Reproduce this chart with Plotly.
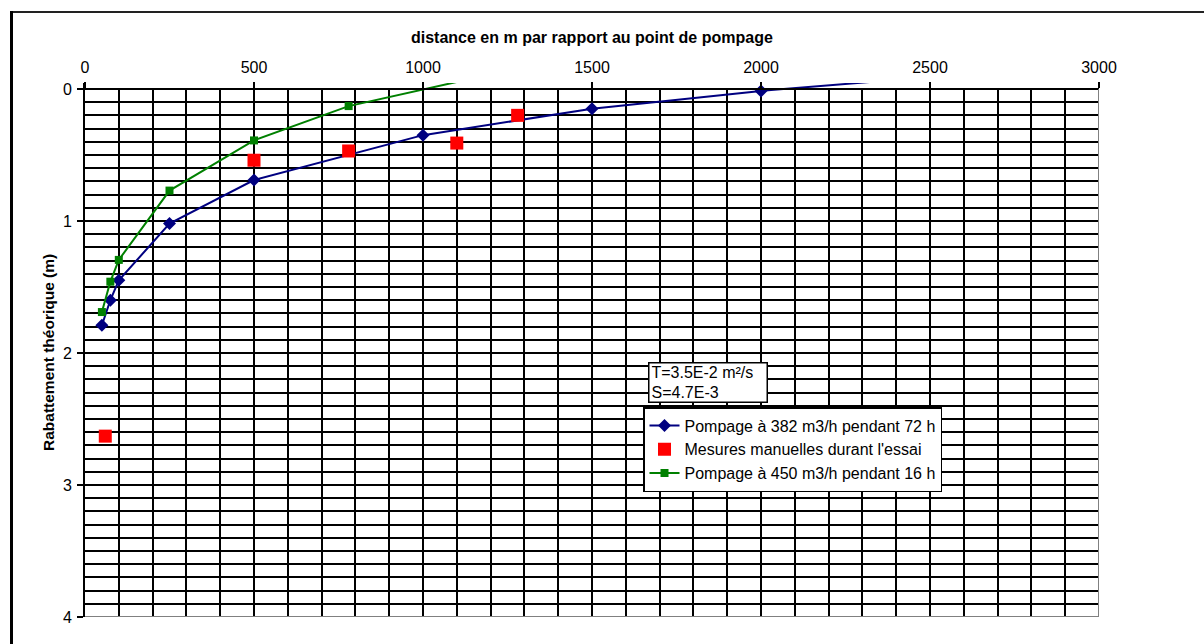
import plotly.graph_objects as go

# Distances (m) and theoretical drawdown (m)
dist_382 = [50, 75, 100, 250, 500, 1000, 1500, 2000, 2500]
draw_382 = [1.79, 1.60, 1.45, 1.02, 0.69, 0.35, 0.15, 0.015, -0.09]

dist_450 = [50, 75, 100, 250, 500, 780, 1200]
draw_450 = [1.69, 1.46, 1.295, 0.77, 0.39, 0.13, -0.11]

# Manual measurements taken during the test
dist_mes = [60, 500, 780, 1100, 1280]
draw_mes = [2.63, 0.54, 0.47, 0.41, 0.20]

name_382 = "Pompage à 382 m3/h pendant 72 h"
name_mes = "Mesures manuelles durant l'essai"
name_450 = "Pompage à 450 m3/h pendant 16 h"
params_text = "T=3.5E-2 m²/s<br>S=4.7E-3"
x_title = "distance en m par rapport au point de pompage"
y_title = "Rabattement théorique (m)"

W, H = 1204, 644
ML, MR, MT, MB = 85, 105, 83, 27
PW, PH = W - ML - MR, H - MT - MB


def px(x):
    return (x - ML) / PW


def py(y):
    return 1 - (y - MT) / PH


FONT = "Liberation Sans, Arial, sans-serif"

fig = go.Figure()
fig.add_trace(go.Scatter(
    x=dist_382, y=draw_382, name=name_382, mode="lines+markers",
    line=dict(color="#000080", width=2),
    marker=dict(symbol="diamond", size=10, color="#000080"),
))
fig.add_trace(go.Scatter(
    x=dist_mes, y=draw_mes, name=name_mes, mode="markers",
    marker=dict(symbol="square", size=13, color="#FF0000"),
))
fig.add_trace(go.Scatter(
    x=dist_450, y=draw_450, name=name_450, mode="lines+markers",
    line=dict(color="#008000", width=2),
    marker=dict(symbol="square", size=8, color="#008000"),
))

grid = dict(showgrid=True, gridcolor="#000000", gridwidth=1.5)

fig.update_layout(
    width=W, height=H,
    margin=dict(l=ML, r=MR, t=MT, b=MB),
    paper_bgcolor="white", plot_bgcolor="white",
    font=dict(family=FONT, size=16, color="black"),
    showlegend=True,
    legend=dict(
        x=px(643), y=py(407), xanchor="left", yanchor="top",
        bgcolor="white", bordercolor="black", borderwidth=1.5,
        font=dict(size=16), traceorder="normal",
    ),
    xaxis=dict(
        range=[0, 3000], side="top", anchor="free", position=4 / 4.045,
        tickmode="linear", tick0=0, dtick=500,
        showline=True, linecolor="black", linewidth=2,
        ticks="outside", ticklen=6, tickwidth=1.5, tickcolor="black",
        tickfont=dict(size=16), ticklabelstandoff=3,
        minor=dict(dtick=100, tick0=0, **grid),
        zeroline=False, **grid,
    ),
    yaxis=dict(
        range=[4, -0.045],
        tickmode="array", tickvals=[0, 1, 2, 3, 4],
        showline=True, linecolor="black", linewidth=2,
        ticks="outside", ticklen=6, tickwidth=1.5, tickcolor="black",
        tickfont=dict(size=16), ticklabelstandoff=2,
        minor=dict(dtick=0.1, tick0=0, **grid),
        zeroline=False, **grid,
    ),
)

# Hide gridlines in the thin band above the zero line
fig.add_shape(type="rect", xref="x", yref="y", x0=-10, x1=3010, y0=-0.05, y1=0,
              fillcolor="white", line=dict(width=0), layer="between")
# Plot area border (bottom / right)
fig.add_shape(type="line", xref="x", yref="y", x0=0, x1=3000, y0=4, y1=4,
              line=dict(color="#808080", width=2), layer="above")
fig.add_shape(type="line", xref="x", yref="y", x0=3000, x1=3000, y0=0, y1=4,
              line=dict(color="#808080", width=2), layer="above")
# Outer chart frame
fig.add_shape(type="line", xref="paper", yref="paper", x0=px(10), x1=px(1204),
              y0=py(12), y1=py(12), line=dict(color="#222222", width=2))
fig.add_shape(type="line", xref="paper", yref="paper", x0=px(11.5), x1=px(11.5),
              y0=py(11), y1=py(644), line=dict(color="black", width=3))

fig.add_annotation(text=f"<b>{x_title}</b>", xref="paper", yref="paper",
                   x=px(592), y=py(38), xanchor="center", yanchor="middle",
                   showarrow=False, font=dict(size=16))
fig.add_annotation(text=f"<b>{y_title}</b>", xref="paper", yref="paper",
                   x=px(48), y=py(353), xanchor="center", yanchor="middle",
                   textangle=-90, showarrow=False, font=dict(size=15.5))
fig.add_annotation(text=params_text, xref="paper", yref="paper",
                   x=px(648), y=py(362), xanchor="left", yanchor="top",
                   align="left", showarrow=False, width=113, height=34,
                   bgcolor="white", bordercolor="black", borderwidth=1.5,
                   borderpad=2, font=dict(size=16))

fig.write_html("out.html")
